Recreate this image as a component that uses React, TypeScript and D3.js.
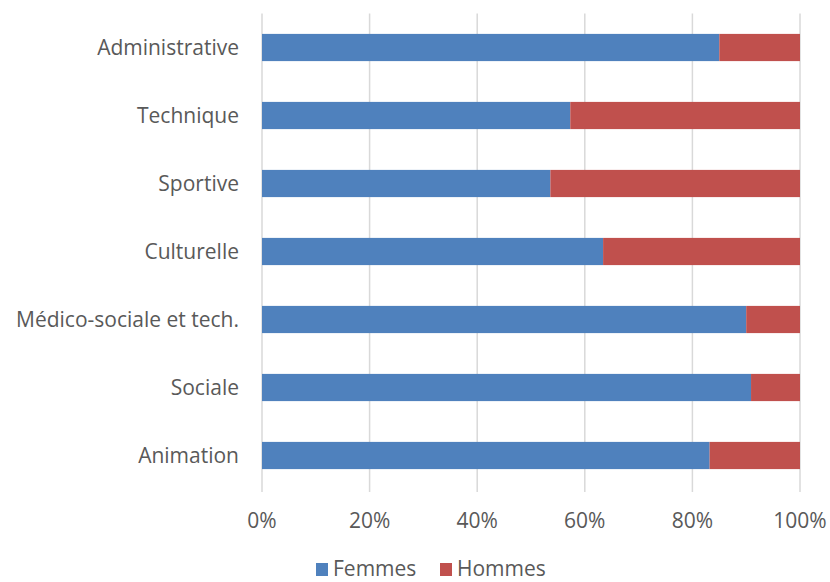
import React from "react";
import * as d3 from "d3";

const categories = [
  "Administrative",
  "Technique",
  "Sportive",
  "Culturelle",
  "Médico-sociale et tech.",
  "Sociale",
  "Animation",
];
const femmes = [85.0, 57.3, 53.6, 63.4, 90.0, 90.9, 83.2];
const hommes = [15.0, 42.7, 46.4, 36.6, 10.0, 9.1, 16.8];
const xTicks = [0, 20, 40, 60, 80, 100];
const seriesNames = ["Femmes", "Hommes"];
const seriesColors = ["#4F81BD", "#C0504D"];

const W = 830;
const H = 582;
const FONT = "'Open Sans', sans-serif";

export default function App() {
  const x = d3.scaleLinear().domain([0, 100]).range([262, 800]);
  const y = d3
    .scaleBand<string>()
    .domain(categories)
    .range([13.5, 489.5])
    .paddingInner(0.6)
    .paddingOuter(0.3);

  const stacked = categories.map((c, i) => {
    const vals = [femmes[i], hommes[i]];
    const total = vals[0] + vals[1];
    let acc = 0;
    return vals.map((v) => {
      const p = (v / total) * 100;
      const seg = { x0: acc, x1: acc + p };
      acc += p;
      return seg;
    });
  });

  return (
    <svg
      width={W}
      height={H}
      style={{ position: "absolute", left: 0, top: 0, background: "#fff" }}
    >
      {xTicks.map((t) => (
        <line
          key={"g" + t}
          x1={x(t)}
          x2={x(t)}
          y1={13.5}
          y2={492}
          stroke="#D9D9D9"
          strokeWidth={1.5}
        />
      ))}
      {categories.map((c, i) =>
        stacked[i].map((s, j) => (
          <rect
            key={c + j}
            x={x(s.x0)}
            y={y(c)}
            width={x(s.x1) - x(s.x0)}
            height={y.bandwidth()}
            fill={seriesColors[j]}
          />
        ))
      )}
      {categories.map((c) => (
        <text
          key={"l" + c}
          x={239}
          y={(y(c) as number) + y.bandwidth() / 2}
          dy="0.35em"
          textAnchor="end"
          fontFamily={FONT}
          fontSize={21}
          fill="#595959"
        >
          {c}
        </text>
      ))}
      {xTicks.map((t) => (
        <text
          key={"t" + t}
          x={x(t)}
          y={528}
          textAnchor="middle"
          fontFamily={FONT}
          fontSize={21}
          fill="#595959"
        >
          {t + "%"}
        </text>
      ))}
      {seriesNames.map((n, i) => {
        const lx = [316, 440][i];
        return (
          <g key={n}>
            <rect x={lx} y={563} width={12} height={13} fill={seriesColors[i]} />
            <text
              x={lx + 17}
              y={576}
              fontFamily={FONT}
              fontSize={21}
              fill="#595959"
            >
              {n}
            </text>
          </g>
        );
      })}
    </svg>
  );
}
